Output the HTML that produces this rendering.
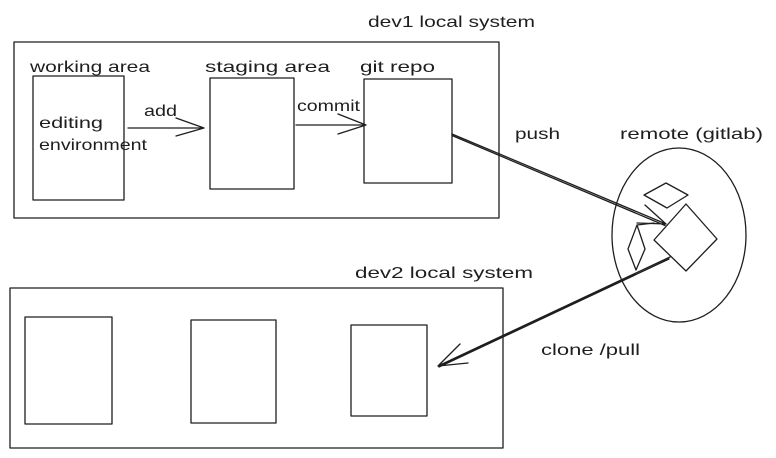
<!DOCTYPE html>
<html><head><style>
html,body{margin:0;padding:0;background:#fff;}
svg{display:block;}
text{font-family:"Liberation Sans",sans-serif;font-size:16px;fill:#1e1e1e;}
</style></head><body>
<svg width="776" height="458" viewBox="0 0 776 458" xmlns="http://www.w3.org/2000/svg">
<g fill="none" stroke="#1e1e1e" stroke-width="1.3" stroke-linecap="round" stroke-linejoin="round">
<rect x="14" y="42" width="485" height="176"/>
<rect x="33" y="76" width="91" height="124"/>
<rect x="210" y="78" width="84" height="111"/>
<rect x="364" y="79" width="88" height="104"/>
<path d="M128 128 L204 128 M176 118 L204 128 L176 136"/>
<path d="M296 125 L366 125 M338 114 L366 125 L338 134"/>
<path d="M452 134 L666 224 M452 135.5 L665 225.5 M645 205 L666 224 L637 223"/>
<ellipse cx="679" cy="235" rx="67" ry="87"/>
<path d="M644 195 L666 183 L688 195 L667 208 Z"/>
<path d="M654 240 L686 204 L717 239 L686 271 Z"/>
<path d="M628 249 L637 225 L645 249 L636 270 Z M637 225 L654 223"/>
<path d="M670 257 L438 366 M669 259 L439 367 M460 344 L438 366 L468 363"/>
<rect x="10" y="288" width="493" height="160"/>
<rect x="25" y="317" width="87" height="107"/>
<rect x="191" y="320" width="85" height="103"/>
<rect x="351" y="325" width="76" height="91"/>
</g>
<text x="368" y="27" textLength="167" lengthAdjust="spacingAndGlyphs">dev1 local system</text>
<text x="30" y="72" textLength="120" lengthAdjust="spacingAndGlyphs">working area</text>
<text x="205" y="72" textLength="125" lengthAdjust="spacingAndGlyphs">staging area</text>
<text x="360" y="72" textLength="75" lengthAdjust="spacingAndGlyphs">git repo</text>
<text x="144" y="116" textLength="33" lengthAdjust="spacingAndGlyphs">add</text>
<text x="297" y="111" textLength="63" lengthAdjust="spacingAndGlyphs">commit</text>
<text x="39" y="128" textLength="64" lengthAdjust="spacingAndGlyphs">editing</text>
<text x="39" y="150" textLength="108" lengthAdjust="spacingAndGlyphs">environment</text>
<text x="515" y="139" textLength="45" lengthAdjust="spacingAndGlyphs">push</text>
<text x="620" y="139" textLength="143" lengthAdjust="spacingAndGlyphs">remote (gitlab)</text>
<text x="355" y="278" textLength="178" lengthAdjust="spacingAndGlyphs">dev2 local system</text>
<text x="541" y="355" textLength="99" lengthAdjust="spacingAndGlyphs">clone /pull</text>
</svg>
</body></html>
